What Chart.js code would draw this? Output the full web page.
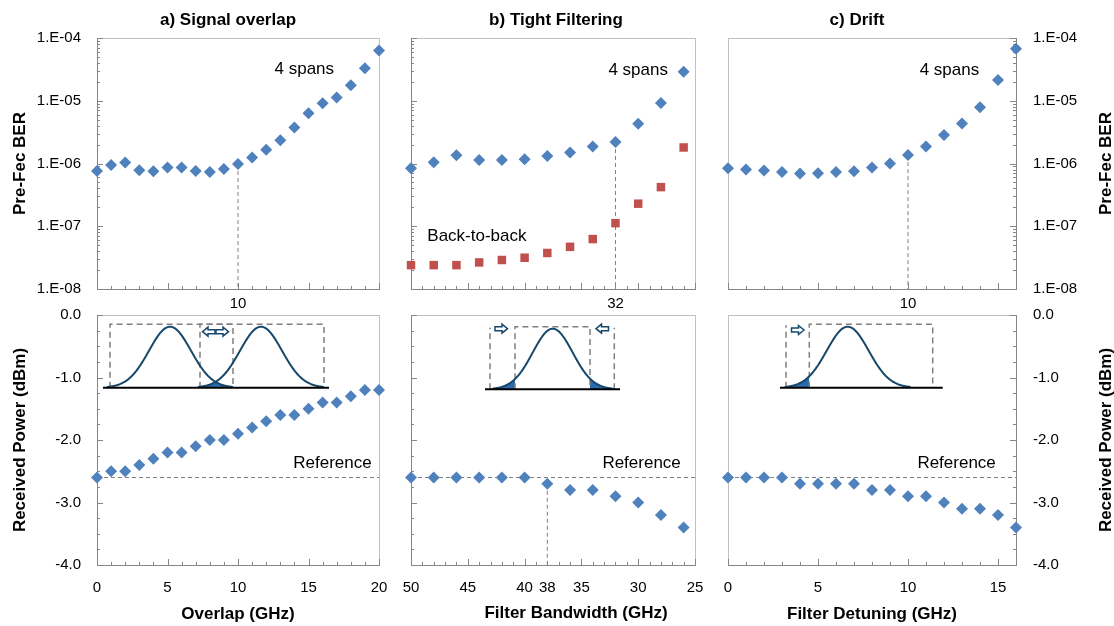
<!DOCTYPE html>
<html>
<head>
<meta charset="utf-8">
<script src="https://cdn.jsdelivr.net/npm/chart.js@4.4.1/dist/chart.umd.min.js"></script>
<style>
  html, body { margin: 0; padding: 0; background: #fff; }
  body { width: 1114px; height: 626px; position: relative; overflow: hidden; }
  canvas { position: absolute; }
</style>
</head>
<body>
<canvas id="topA" width="456" height="320" style="left:0;top:0"></canvas>
<canvas id="topB" width="312" height="320" style="left:400px;top:0"></canvas>
<canvas id="topC" width="514" height="320" style="left:600px;top:0"></canvas>
<canvas id="botA" width="456" height="340" style="left:0;top:286px"></canvas>
<canvas id="botB" width="333" height="340" style="left:387px;top:286px"></canvas>
<canvas id="botC" width="514" height="340" style="left:600px;top:286px"></canvas>
<script>
// a) signal overlap
const overlapGHz = [0, 1, 2, 3, 4, 5, 6, 7, 8, 9, 10, 11, 12, 13, 14, 15, 16, 17, 18, 19, 20];
const overlapBER = [7.6e-7, 9.5e-7, 1.04e-6, 7.8e-7, 7.5e-7, 8.6e-7, 8.6e-7, 7.6e-7, 7.3e-7, 8.2e-7, 9.8e-7,
  1.25e-6, 1.65e-6, 2.35e-6, 3.75e-6, 6.3e-6, 9.1e-6, 1.13e-5, 1.77e-5, 3.3e-5, 6.3e-5];
const overlapPower = [-2.6, -2.5, -2.5, -2.4, -2.3, -2.2, -2.2, -2.1, -2.0, -2.0, -1.9,
  -1.8, -1.7, -1.6, -1.6, -1.5, -1.4, -1.4, -1.3, -1.2, -1.2];

// b) tight filtering
const bandwidthGHz = [50, 48, 46, 44, 42, 40, 38, 36, 34, 32, 30, 28, 26];
const bandwidthBER4Spans = [8.4e-7, 1.05e-6, 1.35e-6, 1.14e-6, 1.14e-6, 1.17e-6, 1.32e-6, 1.5e-6, 1.87e-6, 2.2e-6, 4.3e-6, 9.2e-6, 2.9e-5];
const bandwidthBERB2B = [2.4e-8, 2.4e-8, 2.4e-8, 2.65e-8, 2.9e-8, 3.15e-8, 3.75e-8, 4.7e-8, 6.25e-8, 1.12e-7, 2.29e-7, 4.2e-7, 1.8e-6];
const bandwidthPower = [-2.6, -2.6, -2.6, -2.6, -2.6, -2.6, -2.7, -2.8, -2.8, -2.9, -3.0, -3.2, -3.4];

// c) drift
const detuningGHz = [0, 1, 2, 3, 4, 5, 6, 7, 8, 9, 10, 11, 12, 13, 14, 15, 16];
const detuningBER = [8.4e-7, 8.0e-7, 7.7e-7, 7.3e-7, 6.9e-7, 7.0e-7, 7.3e-7, 7.5e-7, 8.6e-7, 1.0e-6, 1.36e-6,
  1.87e-6, 2.85e-6, 4.35e-6, 7.9e-6, 2.14e-5, 6.75e-5];
const detuningPower = [-2.6, -2.6, -2.6, -2.6, -2.7, -2.7, -2.7, -2.7, -2.8, -2.8, -2.9, -2.9, -3.0, -3.1, -3.1, -3.2, -3.4];

const referencePower = -2.6;
const overlapMark = 10, bandwidthMarkBER = 32, bandwidthMarkPower = 38, detuningMark = 10;

// tick labels
const berTicks = [1e-8, 1e-7, 1e-6, 1e-5, 1e-4];
const powerTicks = [-4, -3, -2, -1, 0];
const overlapTicks = [0, 5, 10, 15, 20];
const bandwidthTicks = [50, 45, 40, 38, 35, 30, 25];
const detuningTicks = [0, 5, 10, 15];

Chart.defaults.font.family = "'Liberation Sans', Arial, sans-serif";
Chart.defaults.color = '#000';

const BLUE = '#4F81BD', RED = '#C0504D', GUIDE = '#808080', AXIS = '#868686', FRAME = '#c0c0c0', INK = '#17486b';

function pts(xs, ys) { return xs.map((x, i) => ({ x: x, y: ys[i] })); }
function marker(xs, ys, at, floor) { return [{ x: at, y: ys[xs.indexOf(at)] }, { x: at, y: floor }]; }
function refLine(lo, hi) { return [{ x: lo, y: referencePower }, { x: hi, y: referencePower }]; }

function markSet(data, style, color) {
  return { data: data, pointStyle: style, pointRadius: 6, pointHoverRadius: 6, backgroundColor: color,
    pointBackgroundColor: color, pointBorderWidth: 0, showLine: false, clip: false };
}
function guideSet(data) {
  return { data: data, showLine: true, pointRadius: 0, borderColor: GUIDE, borderWidth: 1, borderDash: [4, 3], clip: false };
}

function range(a, b, step) {
  const out = [];
  for (let v = a; v <= b + 1e-9; v += step) out.push(+v.toFixed(4));
  return out;
}
function logMarks(lo, hi) {
  const out = [];
  for (let e = lo; e < hi; e++) for (let m = 1; m < 10; m++) out.push({ v: m * Math.pow(10, e), len: m === 1 ? 6 : 3 });
  out.push({ v: Math.pow(10, hi), len: 6 });
  return out;
}
function linMarks(a, b, step, every) {
  return range(a, b, step).map(v => ({ v: v, len: Math.abs(v / every - Math.round(v / every)) < 1e-6 ? 6 : 3 }));
}
function berLabel(v) {
  const e = Math.round(Math.log10(v));
  return '1.E' + (e < 0 ? '-' : '+') + String(Math.abs(e)).padStart(2, '0');
}

function xScale(o) {
  return {
    type: 'linear', min: o.min, max: o.max, reverse: !!o.reverse,
    grid: { display: false, drawTicks: false }, border: { color: AXIS },
    afterBuildTicks: s => { s.ticks = o.labels.map(v => ({ value: v })); },
    afterFit: s => { s.height = o.height; },
    ticks: { padding: o.pad, autoSkip: false, maxRotation: 0, font: { size: 15 } },
    title: o.title ? { display: true, text: o.title, font: { size: 17, weight: 'bold' }, padding: { top: 0, bottom: 1 } } : { display: false }
  };
}
function yScale(o) {
  return {
    type: o.type, min: o.min, max: o.max, position: o.side,
    grid: { display: false, drawTicks: false }, border: { color: AXIS },
    afterBuildTicks: s => { s.ticks = o.labels.map(v => ({ value: v })); },
    afterFit: s => { s.width = o.width; },
    ticks: { display: o.show, padding: o.pad, font: { size: 15 }, callback: o.format },
    title: o.title ? { display: true, text: o.title, font: { size: 17, weight: 'bold' }, padding: { top: 10, bottom: 0 } } : { display: false }
  };
}

function drawArrow(ctx, cx, cy, dir) {
  ctx.beginPath();
  ctx.moveTo(cx - dir * 6, cy - 2);
  ctx.lineTo(cx + dir * 1, cy - 2);
  ctx.lineTo(cx + dir * 1, cy - 4.5);
  ctx.lineTo(cx + dir * 6.5, cy);
  ctx.lineTo(cx + dir * 1, cy + 4.5);
  ctx.lineTo(cx + dir * 1, cy + 2);
  ctx.lineTo(cx - dir * 6, cy + 2);
  ctx.closePath();
  ctx.fillStyle = '#fff';
  ctx.fill();
  ctx.strokeStyle = INK;
  ctx.lineWidth = 1.5;
  ctx.stroke();
}

function drawInset(ctx, a, s) {
  const L = a.left, T = a.top, base = T + s.base;
  const curve = (c, x) => s.h * Math.exp(-Math.pow(x - L - c, 2) / (2 * s.sigma * s.sigma));
  const low = x => Math.min.apply(null, s.curves.map(c => curve(c, x)));
  ctx.save();
  ctx.fillStyle = '#2b6cb0';
  s.shade.forEach(r => {
    ctx.beginPath();
    ctx.moveTo(L + r[0], base);
    for (let x = L + r[0]; x <= L + r[1]; x += 0.5) ctx.lineTo(x, base - low(x));
    ctx.lineTo(L + r[1], base);
    ctx.closePath();
    ctx.fill();
  });
  ctx.strokeStyle = '#7f7f7f';
  ctx.lineWidth = 1.5;
  ctx.setLineDash([6, 4]);
  s.boxes.forEach(b => {
    ctx.beginPath();
    ctx.moveTo(L + b[0], base);
    ctx.lineTo(L + b[0], T + s.top);
    ctx.lineTo(L + b[1], T + s.top);
    ctx.lineTo(L + b[1], base);
    ctx.stroke();
  });
  s.posts.forEach(p => {
    ctx.beginPath();
    ctx.moveTo(L + p, base);
    ctx.lineTo(L + p, T + s.top + 1);
    ctx.stroke();
  });
  ctx.setLineDash([]);
  ctx.strokeStyle = INK;
  ctx.lineWidth = 2;
  s.curves.forEach(c => {
    ctx.beginPath();
    const x0 = Math.max(L + s.line[0], L + c - 3 * s.sigma), x1 = Math.min(L + s.line[1], L + c + 3 * s.sigma);
    for (let x = x0; x <= x1; x += 0.5) {
      if (x === x0) ctx.moveTo(x, base - curve(c, x)); else ctx.lineTo(x, base - curve(c, x));
    }
    ctx.stroke();
  });
  ctx.strokeStyle = '#000';
  ctx.lineWidth = 2;
  ctx.beginPath();
  ctx.moveTo(L + s.line[0], base);
  ctx.lineTo(L + s.line[1], base);
  ctx.stroke();
  s.arrows.forEach(ar => drawArrow(ctx, L + ar[0], T + ar[1], ar[2]));
  ctx.restore();
}

function decor(o) {
  return {
    id: 'decor',
    beforeDraw(chart) {
      const { ctx, chartArea: a } = chart;
      ctx.save();
      ctx.strokeStyle = FRAME;
      ctx.lineWidth = 1;
      ctx.strokeRect(Math.round(a.left) + 0.5, Math.round(a.top) + 0.5, Math.round(a.right - a.left), Math.round(a.bottom - a.top));
      ctx.restore();
    },
    beforeDatasetsDraw(chart) {
      const { ctx, chartArea: a, scales } = chart;
      ctx.save();
      ctx.strokeStyle = AXIS;
      ctx.lineWidth = 1;
      ctx.beginPath();
      o.xMarks.forEach(t => {
        const px = Math.round(scales.x.getPixelForValue(t.v)) + 0.5;
        ctx.moveTo(px, a.bottom);
        ctx.lineTo(px, a.bottom - t.len);
      });
      o.yMarks.forEach(t => {
        const py = Math.round(scales.y.getPixelForValue(t.v)) + 0.5;
        if (o.side === 'right') { ctx.moveTo(a.right, py); ctx.lineTo(a.right - t.len, py); }
        else { ctx.moveTo(a.left, py); ctx.lineTo(a.left + t.len, py); }
      });
      ctx.stroke();
      ctx.restore();
    },
    afterDraw(chart) {
      const { ctx, chartArea: a, scales } = chart;
      ctx.save();
      ctx.fillStyle = '#000';
      ctx.textAlign = 'center';
      ctx.textBaseline = 'middle';
      ctx.font = "bold 17px 'Liberation Sans', Arial, sans-serif";
      if (o.heading) ctx.fillText(o.heading, o.headingX - chart.canvas.offsetLeft, 20);
      if (o.footTitle) ctx.fillText(o.footTitle, o.footX - chart.canvas.offsetLeft, chart.height - 13);
      ctx.font = "17px 'Liberation Sans', Arial, sans-serif";
      (o.notes || []).forEach(n => ctx.fillText(n.text, scales.x.getPixelForValue(n.x), scales.y.getPixelForValue(n.y)));
      if (o.sideTitle) {
        ctx.translate(chart.width - 8, (a.top + a.bottom) / 2);
        ctx.rotate(-Math.PI / 2);
        ctx.font = "bold 17px 'Liberation Sans', Arial, sans-serif";
        ctx.fillText(o.sideTitle, 0, 0);
      }
      ctx.restore();
      if (o.inset) drawInset(ctx, a, o.inset);
    }
  };
}

function panel(id, o) {
  return new Chart(document.getElementById(id), {
    type: 'scatter',
    data: { datasets: o.datasets },
    options: {
      responsive: false, animation: false, events: [],
      layout: { padding: o.padding },
      plugins: { legend: { display: false }, tooltip: { enabled: false }, title: { display: false } },
      scales: { x: o.x, y: o.y }
    },
    plugins: [decor(o)]
  });
}

const powerFmt = v => Number(v).toFixed(1);
const berMarks = logMarks(-8, -4);
const powerMarks = linMarks(-4, 0, 0.25, 1);

// top row: pre-FEC BER
panel('topA', {
  heading: 'a) Signal overlap', headingX: 228, padding: { top: 38, right: 77 },
  datasets: [markSet(pts(overlapGHz, overlapBER), 'rectRot', BLUE),
    guideSet(marker(overlapGHz, overlapBER, overlapMark, 1e-8))],
  x: xScale({ min: 0, max: 20, labels: [overlapMark], height: 31, pad: 6 }),
  y: yScale({ type: 'logarithmic', min: 1e-8, max: 1e-4, side: 'left', labels: berTicks, width: 97, show: true, pad: 16, format: berLabel, title: 'Pre-Fec BER' }),
  xMarks: linMarks(0, 20, 1, 5), yMarks: berMarks, side: 'left',
  notes: [{ text: '4 spans', x: 14.7, y: 3.2e-5 }]
});
panel('topB', {
  heading: 'b) Tight Filtering', headingX: 556, padding: { top: 38, right: 17 },
  datasets: [markSet(pts(bandwidthGHz, bandwidthBER4Spans), 'rectRot', BLUE),
    markSet(pts(bandwidthGHz, bandwidthBERB2B), 'rect', RED),
    guideSet(marker(bandwidthGHz, bandwidthBER4Spans, bandwidthMarkBER, 1e-8))],
  x: xScale({ min: 25, max: 50, reverse: true, labels: [bandwidthMarkBER], height: 31, pad: 6 }),
  y: yScale({ type: 'logarithmic', min: 1e-8, max: 1e-4, side: 'left', labels: berTicks, width: 11, show: false, pad: 0 }),
  xMarks: linMarks(25, 50, 1, 5), yMarks: berMarks, side: 'left',
  notes: [{ text: '4 spans', x: 30.0, y: 3.1e-5 }, { text: 'Back-to-back', x: 44.2, y: 6.8e-8 }]
});
panel('topC', {
  heading: 'c) Drift', headingX: 857, padding: { top: 38, left: 128 },
  datasets: [markSet(pts(detuningGHz, detuningBER), 'rectRot', BLUE),
    guideSet(marker(detuningGHz, detuningBER, detuningMark, 1e-8))],
  x: xScale({ min: 0, max: 16, labels: [detuningMark], height: 31, pad: 6 }),
  y: yScale({ type: 'logarithmic', min: 1e-8, max: 1e-4, side: 'right', labels: berTicks, width: 98, show: true, pad: 17, format: berLabel }),
  xMarks: linMarks(0, 16, 1, 5), yMarks: berMarks, side: 'right',
  notes: [{ text: '4 spans', x: 12.3, y: 3.1e-5 }], sideTitle: 'Pre-Fec BER'
});

// bottom row: received power
panel('botA', {
  padding: { top: 29, right: 77 },
  datasets: [markSet(pts(overlapGHz, overlapPower), 'rectRot', BLUE), guideSet(refLine(0, 20))],
  x: xScale({ min: 0, max: 20, labels: overlapTicks, height: 61, pad: 14, title: 'Overlap (GHz)' }),
  y: yScale({ type: 'linear', min: -4, max: 0, side: 'left', labels: powerTicks, width: 97, show: true, pad: 16, format: powerFmt, title: 'Received Power (dBm)' }),
  xMarks: linMarks(0, 20, 1, 5), yMarks: powerMarks, side: 'left',
  notes: [{ text: 'Reference', x: 16.7, y: -2.37 }],
  inset: { base: 72.7, line: [6, 232], h: 61, sigma: 21, curves: [73, 164], top: 9.3,
    boxes: [[13, 136], [103, 227]], posts: [], shade: [[103, 136]],
    arrows: [[112, 16.7, -1], [125, 16.7, 1]] }
});
panel('botB', {
  padding: { top: 29, right: 25 },
  footTitle: 'Filter Bandwidth (GHz)', footX: 576,
  datasets: [markSet(pts(bandwidthGHz, bandwidthPower), 'rectRot', BLUE), guideSet(refLine(25, 50)),
    guideSet(marker(bandwidthGHz, bandwidthPower, bandwidthMarkPower, -4))],
  x: xScale({ min: 25, max: 50, reverse: true, labels: bandwidthTicks, height: 61, pad: 14 }),
  y: yScale({ type: 'linear', min: -4, max: 0, side: 'left', labels: powerTicks, width: 24, show: false, pad: 0 }),
  xMarks: linMarks(25, 50, 1, 5), yMarks: powerMarks, side: 'left',
  notes: [{ text: 'Reference', x: 29.7, y: -2.37 }],
  inset: { base: 74.3, line: [74, 209], h: 60.6, sigma: 20, curves: [141.7], top: 11.7,
    boxes: [[104, 179]], posts: [79, 203.3], shade: [[79, 104], [179, 203.3]],
    arrows: [[90, 13.7, 1], [191.5, 13.7, -1]] }
});
panel('botC', {
  padding: { top: 29, left: 128 },
  datasets: [markSet(pts(detuningGHz, detuningPower), 'rectRot', BLUE), guideSet(refLine(0, 16))],
  x: xScale({ min: 0, max: 16, labels: detuningTicks, height: 61, pad: 14, title: 'Filter Detuning (GHz)' }),
  y: yScale({ type: 'linear', min: -4, max: 0, side: 'right', labels: powerTicks, width: 98, show: true, pad: 17, format: powerFmt }),
  xMarks: linMarks(0, 16, 1, 5), yMarks: powerMarks, side: 'right',
  notes: [{ text: 'Reference', x: 12.7, y: -2.37 }], sideTitle: 'Received Power (dBm)',
  inset: { base: 72.7, line: [52, 214.7], h: 61, sigma: 21, curves: [119.7], top: 9.3,
    boxes: [[81.3, 204.7]], posts: [58], shade: [[58, 81.3]],
    arrows: [[69.5, 15, 1]] }
});
</script>
</body>
</html>
